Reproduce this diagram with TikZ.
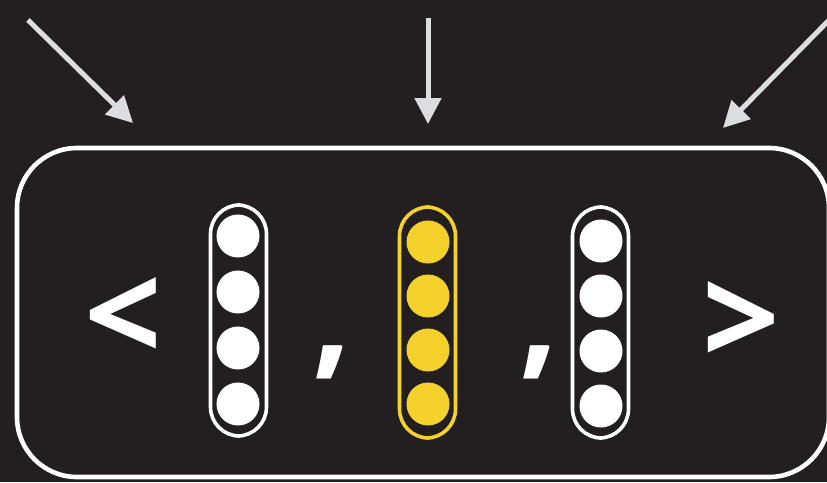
\documentclass[tikz,border=0pt]{standalone}
\usepackage{fontspec}
\setmainfont{Open Sans}
\usetikzlibrary{arrows.meta}

\definecolor{bgdark}{HTML}{231F20}
\definecolor{dotyellow}{HTML}{F4D22B}
\definecolor{arrowgrey}{HTML}{DCDDDF}

\tikzset{
    capsule/.style={draw=#1, line width=3.6pt, rounded corners=29pt, minimum width=56pt, minimum height=231pt, inner sep=0pt},
    dot/.style={circle, fill=#1, minimum size=43pt, inner sep=0pt},
    bigsym/.style={text=white, font=\fontsize{136}{136}\selectfont\bfseries, inner sep=0pt},
    pointer/.style={draw=arrowgrey, line width=5pt, -{Triangle[length=26pt, width=26pt]}}
}

\begin{document}
\begin{tikzpicture}[x=1pt, y=-1pt]

    \fill[bgdark] (0,0) rectangle (827,482);
    \useasboundingbox (0,0) rectangle (827,482);

    \draw[white, line width=4.6pt, rounded corners=60pt] (17,148) rectangle (829,477);

    \node[capsule=white] (left) at (238.5,320.5) {};
    \node[capsule=dotyellow] (mid) at (427.5,322.5) {};
    \node[capsule=white] (right) at (600.5,322.5) {};

    \foreach \y [count=\i] in {236,292,348,404} {
        \node[dot=white] (l\i) at (238,\y) {};
    }
    \foreach \y [count=\i] in {242,296,350,404} {
        \node[dot=dotyellow] (m\i) at (428,\y) {};
    }
    \foreach \y [count=\i] in {241,296,351,406} {
        \node[dot=white] (r\i) at (601,\y) {};
    }

    \node[bigsym] (lt) at (123,320) {<};
    \node[bigsym] (gt) at (741,324) {>};
    \node[bigsym] (c1) at (332,362) {,};
    \node[bigsym] (c2) at (539,362) {,};

    \coordinate (src1) at (28,20);
    \coordinate (dst1) at (133,123);
    \coordinate (src2) at (428,18);
    \coordinate (dst2) at (428,124);
    \coordinate (src3) at (835,14);
    \coordinate (dst3) at (723,128);

    \draw[pointer] (src1) -- (dst1);
    \draw[pointer] (src2) -- (dst2);
    \draw[pointer] (src3) -- (dst3);

\end{tikzpicture}
\end{document}
